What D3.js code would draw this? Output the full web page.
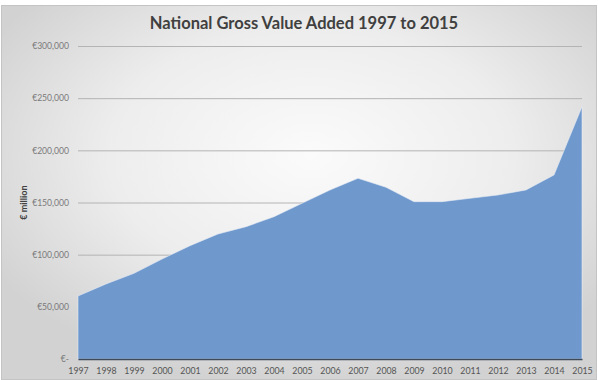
<!DOCTYPE html>
<html>
<head>
<meta charset="utf-8">
<script src="https://cdn.jsdelivr.net/npm/d3@7"></script>
<style>
  html, body { margin: 0; padding: 0; background: #ffffff; }
  svg { display: block; }
</style>
</head>
<body>
<svg id="chart" width="598" height="380"></svg>
<script>
// National GVA, € million, 1997–2015
const years = ["1997","1998","1999","2000","2001","2002","2003","2004","2005","2006",
               "2007","2008","2009","2010","2011","2012","2013","2014","2015"];
const gva = [60400, 71900, 82100, 95800, 108600, 119800, 126800, 136400, 149200, 162000,
             173200, 164600, 150800, 150800, 154000, 157200, 162000, 176400, 241800];
const yTicks = [0, 50000, 100000, 150000, 200000, 250000, 300000];
const yTickLabels = ["€-", "€50,000", "€100,000", "€150,000", "€200,000", "€250,000", "€300,000"];

const W = 598, H = 380;
const margin = { left: 78, right: 16, top: 46, bottom: 21 };
const svg = d3.select("#chart");

// Chart background: soft radial shading inside a thin frame
const defs = svg.append("defs");
const rg = defs.append("radialGradient").attr("id", "bg")
  .attr("cx", "52%").attr("cy", "40%").attr("r", "62%");
rg.append("stop").attr("offset", "0%").attr("stop-color", "#fbfbfb");
rg.append("stop").attr("offset", "55%").attr("stop-color", "#ededed");
rg.append("stop").attr("offset", "100%").attr("stop-color", "#d2d2d2");

svg.append("rect").attr("x", 0).attr("y", 0).attr("width", W).attr("height", H).attr("fill", "#ffffff");
svg.append("rect").attr("x", 1.5).attr("y", 5.5).attr("width", W - 3).attr("height", H - 6)
  .attr("fill", "url(#bg)").attr("stroke", "#c4c4c4").attr("stroke-width", 1);

const x = d3.scalePoint().domain(years).range([margin.left, W - margin.right]);
const y = d3.scaleLinear().domain([0, 300000]).range([H - margin.bottom, margin.top]);

const labelFont = "Lato, 'Liberation Sans', sans-serif";

// Horizontal gridlines with currency labels
const yAxis = d3.axisLeft(y).tickValues(yTicks)
  .tickFormat((d, i) => yTickLabels[i])
  .tickSize(-(W - margin.right - margin.left)).tickPadding(9);
const gy = svg.append("g").attr("transform", `translate(${margin.left},0)`).call(yAxis);
gy.select(".domain").remove();
gy.selectAll(".tick line").attr("stroke", "#b4b4b4").attr("stroke-width", 1);
gy.selectAll(".tick text").attr("fill", "#7a7a7a")
  .style("font-family", labelFont).style("font-size", "8.6px");

// Area
const area = d3.area()
  .x((d, i) => x(years[i]))
  .y0(y(0))
  .y1(d => y(d));
svg.append("path").datum(gva)
  .attr("d", area)
  .attr("fill", "#6f98cd")
  .attr("stroke", "#e9eef6").attr("stroke-width", 0.8).attr("stroke-opacity", 0.7);

// Category axis along the baseline
const xAxis = d3.axisBottom(x).tickSize(0).tickPadding(9);
const gx = svg.append("g").attr("transform", `translate(0,${y(0)})`).call(xAxis);
gx.select(".domain").attr("stroke", "#3d4a5a").attr("stroke-width", 1.3);
gx.selectAll(".tick text").attr("fill", "#555555")
  .style("font-family", labelFont).style("font-size", "8.8px");

// Axis title
svg.append("text")
  .attr("transform", `translate(27,${y(150000)}) rotate(-90)`)
  .attr("text-anchor", "middle")
  .attr("fill", "#404040")
  .style("font-family", labelFont)
  .style("font-size", "9px").style("font-weight", "bold")
  .text("€ million");

// Chart title
svg.append("text")
  .attr("x", 304).attr("y", 29)
  .attr("text-anchor", "middle")
  .attr("fill", "#404040")
  .style("font-family", labelFont)
  .style("font-size", "16.5px").style("font-weight", "bold")
  .text("National Gross Value Added 1997 to 2015");
</script>
</body>
</html>
